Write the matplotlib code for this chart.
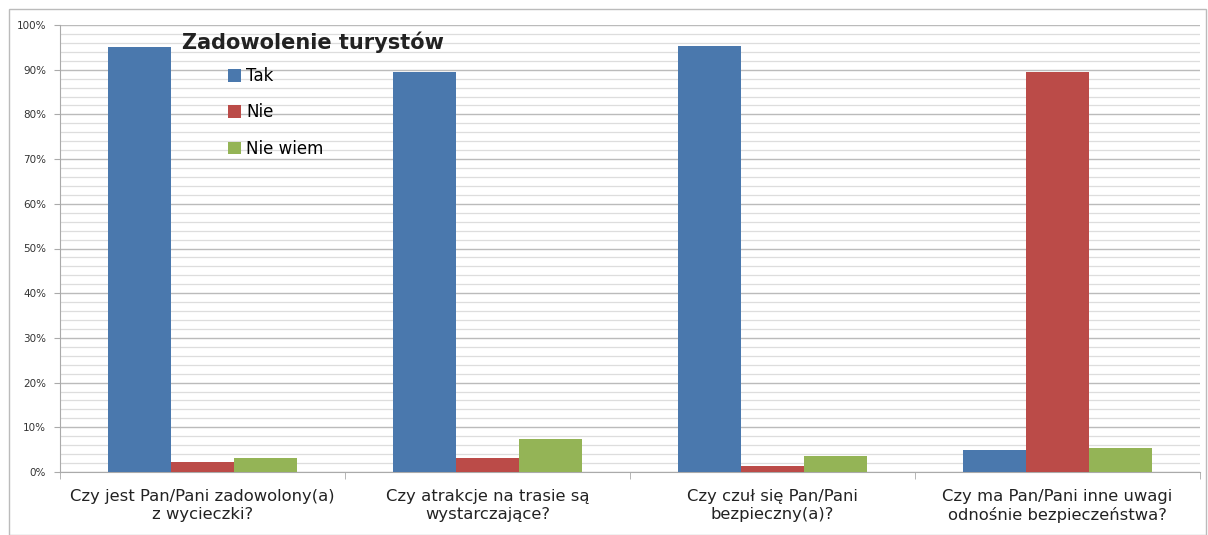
import matplotlib
matplotlib.use("Agg")
import matplotlib.pyplot as plt
import numpy as np
from matplotlib.patches import Rectangle

categories = ["Czy jest Pan/Pani zadowolony(a)\nz wycieczki?",
              "Czy atrakcje na trasie są\nwystarczające?",
              "Czy czuł się Pan/Pani\nbezpieczny(a)?",
              "Czy ma Pan/Pani inne uwagi\nodnośnie bezpieczeństwa?"]
series_names = ["Tak", "Nie", "Nie wiem"]
tak = [95.0, 89.5, 95.3, 4.9]
nie = [2.2, 3.1, 1.3, 89.5]
nie_wiem = [3.1, 7.4, 3.6, 5.4]
colors = ["#4A78AD", "#BB4B48", "#94B456"]
title = "Zadowolenie turystów"

fig = plt.figure(figsize=(12.08, 5.35), dpi=100)
ax = fig.add_axes([60/1208, (535-472)/535, 1140/1208, (472-25)/535])

x = np.arange(len(categories))
w = 0.22
for i, (vals, c) in enumerate(zip([tak, nie, nie_wiem], colors)):
    ax.bar(x + (i-1)*w, vals, w, color=c, label=series_names[i], zorder=3)

ax.set_xlim(-0.5, len(categories)-0.5)
ax.set_ylim(0, 100)
ax.set_yticks(np.arange(0, 101, 10))
ax.set_yticklabels([f"{v}%" for v in range(0, 101, 10)], fontsize=7.5, color="#333333")
ax.set_yticks(np.arange(0, 101, 2), minor=True)
ax.grid(axis="y", which="major", color="#BBBBBB", linewidth=1.0, zorder=0)
ax.grid(axis="y", which="minor", color="#DDDDDD", linewidth=0.9, zorder=0)
ax.tick_params(axis="y", which="minor", length=0)
ax.tick_params(axis="y", which="major", length=4, color="#AAAAAA", pad=6)

ax.set_xticks(x)
ax.set_xticklabels(categories, fontsize=11.8, color="#222222", linespacing=1.25)
ax.tick_params(axis="x", which="major", length=0, pad=12)
ax.set_xticks(np.arange(-0.5, len(categories)), minor=True)
ax.tick_params(axis="x", which="minor", length=5, color="#AAAAAA")

for s in ["top", "right"]:
    ax.spines[s].set_visible(False)
ax.spines["left"].set_color("#AAAAAA")
ax.spines["bottom"].set_color("#AAAAAA")

fig.text(182/1208, 1-42/535, title, fontsize=15, fontweight="bold", color="#222222", va="center", ha="left")
leg = ax.legend(loc="upper left", bbox_to_anchor=(153/1140, (472-52)/447), frameon=False,
                fontsize=12, handlelength=0.8, handleheight=0.8, labelspacing=1.1, handletextpad=0.3)

fig.patches.append(Rectangle((9/1208, 0), 1197/1208, 1-9/535, transform=fig.transFigure,
                             fill=False, edgecolor="#BBBBBB", linewidth=1))

fig.savefig("out.png", dpi=100)
